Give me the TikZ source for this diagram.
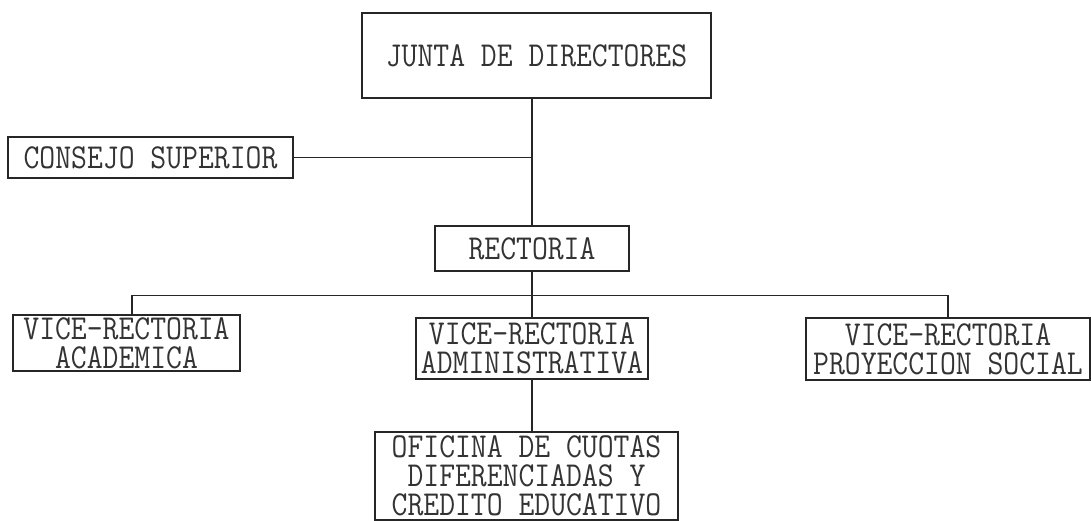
\documentclass[tikz,border=0pt]{standalone}
\usepackage{fontspec}
\newfontfamily\typewriter{Latin Modern Mono}[FakeStretch=0.88]
\usetikzlibrary{calc}

\tikzset{
	orgbox/.style={draw=black!85, line width=1.2pt, inner sep=0pt, align=center,
		text=black!80, font=\typewriter\fontsize{35}{29}\selectfont},
	orgline/.style={draw=black!85, line width=1.2pt}
}

\begin{document}
\begin{tikzpicture}[x=1pt, y=-1pt]

		\useasboundingbox (0, 0) rectangle (1091, 521);

		\node [orgbox, minimum width=349, minimum height=85] (junta) at (536.5, 55.5) {JUNTA DE DIRECTORES};

		\node [orgbox, minimum width=285, minimum height=41] (consejo) at (150.5, 157.5) {CONSEJO SUPERIOR};

		\node [orgbox, minimum width=194, minimum height=45] (rectoria) at (532, 248.5) {RECTORIA};

		\node [orgbox, minimum width=227, minimum height=56] (vracad) at (126.5, 343) {VICE-RECTORIA\\ACADEMICA};

		\node [orgbox, minimum width=232, minimum height=61] (vradmin) at (532, 348.5) {VICE-RECTORIA\\ADMINISTRATIVA};

		\node [orgbox, minimum width=284, minimum height=62] (vrsocial) at (948, 349) {VICE-RECTORIA\\PROYECCION SOCIAL};

		\node [orgbox, minimum width=303, minimum height=88] (oficina) at (526.5, 476) {OFICINA DE CUOTAS\\DIFERENCIADAS Y\\CREDITO EDUCATIVO};

		% bus below the rectoria
		\coordinate (bus) at ($(rectoria.south) + (0, 24)$);

		\draw [orgline] (rectoria.north) -- (rectoria.north |- junta.south);
		\draw [orgline] (consejo.east) -- (consejo.east -| rectoria.north);
		\draw [orgline] (rectoria.south) -- (rectoria.south |- vradmin.north);
		\draw [orgline] ($(vracad.north) + (5.5, 0)$) |- (bus) -| (vrsocial.north);
		\draw [orgline] (vradmin.south) -- (vradmin.south |- oficina.north);

	\end{tikzpicture}
\end{document}
